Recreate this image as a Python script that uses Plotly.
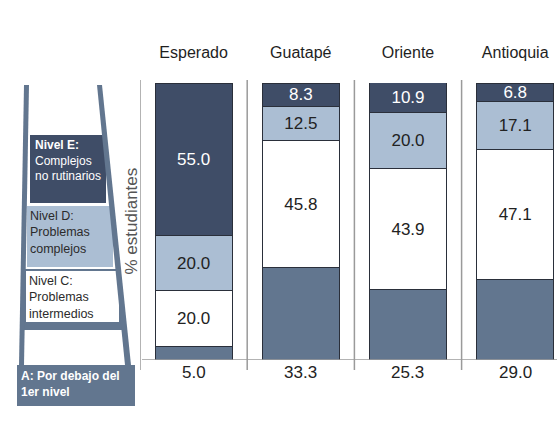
import plotly.graph_objects as go

categories = ["Esperado", "Guatapé", "Oriente", "Antioquia"]
nivel_a = [5.0, 33.3, 25.3, 29.0]
nivel_c = [20.0, 45.8, 43.9, 47.1]
nivel_d = [20.0, 12.5, 20.0, 17.1]
nivel_e = [55.0, 8.3, 10.9, 6.8]

COL_A = "#62768f"
COL_C = "#ffffff"
COL_D = "#abbed3"
COL_E = "#3f4d67"
FONT = "Liberation Sans, Arial, sans-serif"

W, H = 557, 428
ML, MR, MT, MB = 140, 0, 83, 68
PW, PH = W - ML - MR, H - MT - MB


def px(x):
    return (x - ML) / PW


def py(y):
    return (H - MB - y) / PH


fig = go.Figure()
line = dict(color="#2a2f3a", width=1)
fig.add_bar(x=categories, y=nivel_a, marker=dict(color=COL_A, line=line), width=0.72,
            hoverinfo="skip", name="A")
fig.add_bar(x=categories, y=nivel_c, marker=dict(color=COL_C, line=line), width=0.72,
            text=[f"{v:.1f}" for v in nivel_c], textposition="inside", insidetextanchor="middle",
            textfont=dict(color="#222222", size=17, family=FONT), name="C")
fig.add_bar(x=categories, y=nivel_d, marker=dict(color=COL_D, line=line), width=0.72,
            text=[f"{v:.1f}" for v in nivel_d], textposition="inside", insidetextanchor="middle",
            textfont=dict(color="#222222", size=17, family=FONT), name="D")
fig.add_bar(x=categories, y=nivel_e, marker=dict(color=COL_E, line=line), width=0.72,
            text=[f"{v:.1f}" for v in nivel_e], textposition="inside", insidetextanchor="middle",
            textfont=dict(color="#ffffff", size=17, family=FONT), name="E")

# values of level A below the bars
for c, v in zip(categories, nivel_a):
    fig.add_annotation(x=c, y=0, yref="y", text=f"{v:.1f}", showarrow=False,
                       yanchor="top", yshift=-1,
                       font=dict(size=17, color="#222222", family=FONT))

shapes = []
n = len(categories)
for i in range(n):
    shapes.append(dict(type="line", xref="x", yref="paper", x0=i - 0.5, x1=i - 0.5,
                       y0=py(370), y1=py(80), line=dict(color="#9a9a9a", width=1.5)))
shapes.append(dict(type="line", xref="paper", yref="y", x0=px(142), x1=1, y0=0, y1=0,
                   line=dict(color="#9a9a9a", width=1.5)))


def rect(x0, y0, x1, y1, fill, lc=None, lw=0):
    return dict(type="rect", xref="paper", yref="paper", x0=px(x0), x1=px(x1),
                y0=py(y1), y1=py(y0), fillcolor=fill,
                line=dict(color=lc or fill, width=lw), layer="above")


shapes.append(rect(30, 135, 106, 203, COL_E))
shapes.append(rect(27, 206, 113, 267, COL_D))
shapes.append(rect(25, 270, 120, 323, "#ffffff", COL_A, 2))
shapes.append(rect(23, 323, 122, 330, COL_A))
shapes.append(rect(17, 365, 135, 406, COL_A))


def rail(xt0, xt1, xb0, xb1, yt, yb):
    return dict(type="path", xref="paper", yref="paper",
                path=f"M {px(xt0)} {py(yt)} L {px(xt1)} {py(yt)} L {px(xb1)} {py(yb)} L {px(xb0)} {py(yb)} Z",
                fillcolor=COL_A, line=dict(width=0), layer="above")


shapes.append(rail(24, 29, 19, 24, 85, 365))
shapes.append(rail(97, 102, 125, 131, 85, 365))

fig.update_layout(shapes=shapes)

legend_txt = [
    (33, 136, "<b>Nivel E:</b><br>Complejos<br>no rutinarios", "#ffffff", 12),
    (28, 207, "Nivel D:<br>Problemas<br>complejos", "#2b2b2b", 12.5),
    (27, 272, "Nivel C:<br>Problemas<br>intermedios", "#2b2b2b", 12.5),
    (19, 367, "<b>A: Por debajo del<br>1er nivel</b>", "#ffffff", 12),
]
for x0, y0, t, col, sz in legend_txt:
    fig.add_annotation(xref="paper", yref="paper", x=px(x0), y=py(y0), text=t,
                       xanchor="left", yanchor="top", align="left", showarrow=False,
                       font=dict(size=sz, color=col, family=FONT))

fig.add_annotation(xref="paper", yref="paper", x=px(131), y=0.5, text="% estudiantes",
                   textangle=-90, showarrow=False, xanchor="center", yanchor="middle",
                   font=dict(size=17, color="#555555", family=FONT))

fig.update_layout(
    barmode="stack",
    width=W, height=H,
    margin=dict(l=ML, r=MR, t=MT, b=MB, autoexpand=False),
    paper_bgcolor="white", plot_bgcolor="white",
    showlegend=False,
    uniformtext=dict(minsize=17, mode="show"),
    xaxis=dict(side="top", range=[-0.5, 3.39], showgrid=False, showline=False,
               ticks="outside", ticklen=18, tickcolor="rgba(0,0,0,0)", automargin=False,
               tickfont=dict(size=16, color="#1e1e1e", family=FONT), fixedrange=True),
    yaxis=dict(range=[0, 100], showgrid=False, showticklabels=False, zeroline=False,
               showline=False, ticks="", fixedrange=True, automargin=False),
)

fig.write_html("out.html", config={"displayModeBar": False},
               post_script="document.body.style.margin='0';document.body.style.overflow='hidden';")
